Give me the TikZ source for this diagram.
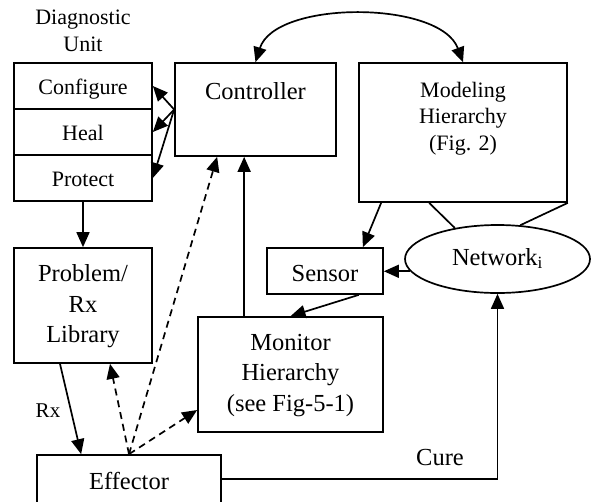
\documentclass[tikz,border=0pt]{standalone}
\usepackage{fontspec}
\setmainfont{Liberation Serif}
\usetikzlibrary{arrows.meta,calc,shapes.geometric}
\begin{document}
\begin{tikzpicture}[x=1pt,y=-1pt,
  >={Triangle[length=15pt,width=13pt]},
  box/.style={draw, line width=1.7pt, rectangle, inner sep=0pt},
  arr/.style={line width=1.7pt, ->},
  dasharr/.style={line width=1.7pt, ->, dash pattern=on 7pt off 5pt},
  ln/.style={line width=1.7pt},
  big/.style={font=\fontsize{24.5}{30.5}\selectfont, align=center, inner sep=0pt},
  small/.style={font=\fontsize{22}{26.5}\selectfont, align=center, inner sep=0pt},
]
\useasboundingbox (0,0) rectangle (591,501);

% boxes
\node[box, minimum width=138pt, minimum height=46pt] (conf) at (83,86) {};
\node[box, minimum width=138pt, minimum height=46pt] (heal) at (83,132) {};
\node[box, minimum width=138pt, minimum height=46pt] (prot) at (83,178) {};
\node[box, minimum width=161pt, minimum height=93pt] (ctrl) at (255.5,109.5) {};
\node[box, minimum width=208pt, minimum height=139pt] (model) at (463,132.5) {};
\node[box, minimum width=138pt, minimum height=115pt] (prob) at (83,305.5) {};
\node[box, minimum width=116pt, minimum height=46pt] (sens) at (325,271) {};
\node[box, minimum width=185pt, minimum height=115pt] (mon) at (290.5,374.5) {};
\node[box, minimum width=184pt, minimum height=48pt] (eff) at (129,479) {};
\node[draw, line width=1.7pt, ellipse, minimum width=185pt, minimum height=68pt, inner sep=0pt] (net) at (497.5,259) {};

% texts
\node[small] (diaglbl) at (83,31) {Diagnostic\\Unit};
\node[small, anchor=base] (conft) at (83,94) {Configure};
\node[small, anchor=base] (healt) at (83,140) {Heal};
\node[small, anchor=base] (prott) at (83,186) {Protect};
\node[big, anchor=base] (ctrlt) at (255.5,99) {Controller};
\node[small] (modelt) at (463,118.5) {Modeling\\Hierarchy\\(Fig. 2)};
\node[big] (probt) at (83,306.5) {Problem/\\Rx\\Library};
\node[big, anchor=base] (senst) at (325,281) {Sensor};
\node[big] (mont) at (290.5,375.5) {Monitor\\Hierarchy\\(see Fig-5-1)};
\node[big, anchor=base] (efft) at (129,489) {Effector};
\node[big, anchor=base] (nett) at (497.5,265) {Network\textsubscript{i}};
\node[big, anchor=base] (curet) at (440,465) {Cure};
\node[small, anchor=base, font=\fontsize{21}{25}\selectfont] (rxt) at (48,417) {Rx};

% connectors
\draw[ln, <->] (ctrl.north) .. controls (275,0) and (440,0) .. (model.north);
\draw[arr] (ctrl.west) -- (conf.east);
\draw[arr] (ctrl.west) -- (heal.east);
\draw[arr] (ctrl.west) -- (prot.east);
\draw[arr] (prot.south) -- (prob.north);
\draw[arr] ($(prob.south)+(-23,0)$) -- ($(eff.north west)+(45,0)$);
\draw[dasharr] (eff.north) -- ($(prob.south)+(27,0)$);
\draw[dasharr] (eff.north) -- ($(ctrl.south west)+(43,0)$);
\draw[dasharr] (eff.north) -- ($(mon.west)+(0,35.5)$);
\draw[arr] ($(mon.north west)+(47,0)$) -- ($(ctrl.south west)+(70,0)$);
\draw[arr] ($(sens.south east)+(-25,0)$) -- (mon.north);
\draw[arr] ($(model.south west)+(23,0)$) -- ($(sens.north east)+(-21,0)$);
\draw[ln] ($(model.south west)+(71,0)$) -- (net.144);
\draw[ln] (model.south east) -- (net.56);
\draw[arr] (net.188) -- (sens.east |- net.188);
\draw[arr] (eff.east) -| (net.south);
\end{tikzpicture}
\end{document}
